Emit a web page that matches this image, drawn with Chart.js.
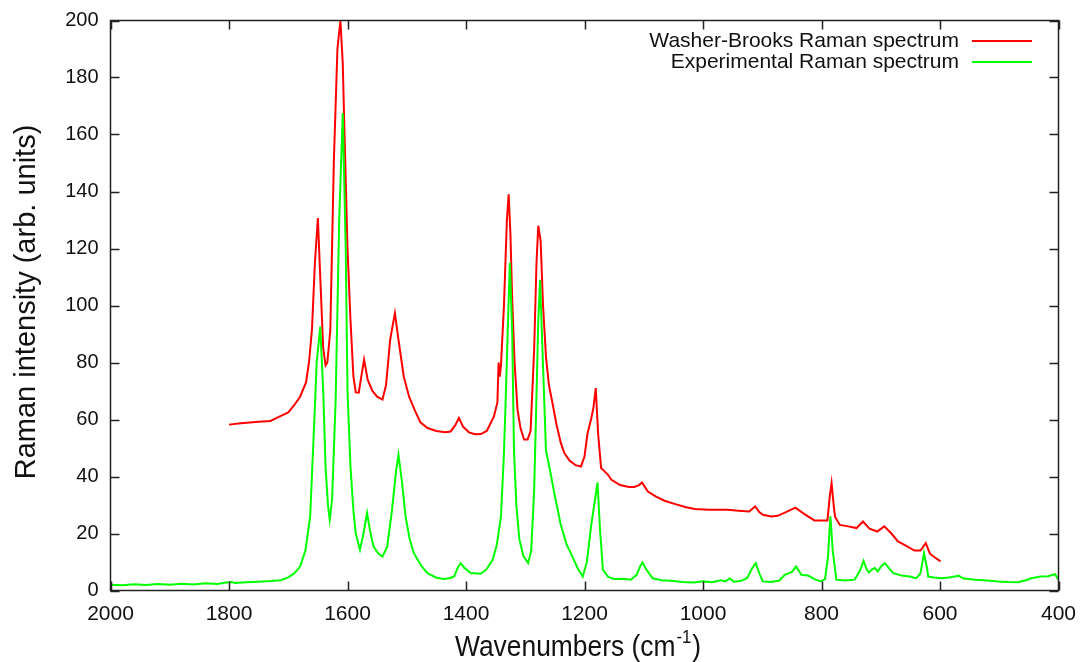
<!DOCTYPE html>
<html>
<head>
<meta charset="utf-8">
<script src="https://cdn.jsdelivr.net/npm/chart.js@4.4.0/dist/chart.umd.min.js"></script>
<style>
  html, body { margin: 0; padding: 0; background: #fff; }
  #wrap { width: 1083px; height: 662px; }
</style>
</head>
<body>
<div id="wrap"><canvas id="c" width="1083" height="662"></canvas></div>
<script>
// Raman spectra - gnuplot style chart redrawn with Chart.js
const seriesLabels = ['Washer-Brooks Raman spectrum', 'Experimental Raman spectrum'];
const xTicks = [2000, 1800, 1600, 1400, 1200, 1000, 800, 600, 400];
const yTicks = [0, 20, 40, 60, 80, 100, 120, 140, 160, 180, 200];

// Washer-Brooks (computed) spectrum
const wbWavenumber = [1800,1780,1750,1730,1715,1700,1690,1680,1670,1665,1660,1655,1650,1646,1641,1637,1634,1629,1623,1617,1612,1608,1605,1600,1595,1590,1586,1581,1576,1572,1566,1558,1550,1541,1535,1528,1520,1514,1505,1496,1486,1477,1465,1450,1435,1426,1418,1412,1405,1395,1385,1375,1365,1353,1347,1345,1343,1341,1336,1331,1328,1325,1322,1318,1313,1308,1302,1296,1291,1285,1281,1278,1274,1270,1265,1260,1254,1247,1240,1234,1225,1215,1206,1200,1195,1189,1185,1181,1177,1172,1169,1160,1155,1140,1125,1116,1108,1103,1093,1080,1065,1048,1030,1014,990,958,940,922,912,905,899,885,874,860,844,830,812,790,786,783,779,777,769,755,741,730,719,706,694,682,671,660,643,633,624,617,608,599];
const wbIntensity = [58.2,58.7,59.2,59.5,61,62.5,65,68,73,80,91.5,115,130.7,110,85,79,80,91.5,151,190,200,185,160,120,95,75,69.5,69.4,76,81,74,70,68,67,72,88,97.3,88,75,68,63,59,57,56,55.5,55.8,58,60.5,57.5,55.5,54.8,54.9,56,61,66,80,75,79,99.6,130,139,125,102,80,63.4,57,53,53,56,84.5,115,128,122.5,100,82,72,65.7,58,51.8,48.2,45.5,44,43.5,47,55,60,64,71,55,43,42.4,40.5,38.9,37,36.3,36.3,37,37.9,34.7,33,31.5,30.4,29.3,28.6,28.3,28.3,28,27.7,29.5,27.5,26.6,26,26.2,27.5,29.1,27,24.6,24.6,33,37.7,29,25.8,23,22.5,21.9,24.2,21.7,20.7,22.5,20,17.2,16,14,14,16.6,12.9,11.5,10.2];

// Experimental spectrum
const expWavenumber = [2000,1980,1960,1940,1920,1900,1880,1860,1840,1820,1805,1795,1790,1770,1750,1730,1713,1700,1690,1680,1671,1663,1657,1652,1646,1641,1637,1633,1630,1626,1620,1614,1608,1603,1600,1595,1590,1586,1579,1573,1567,1562,1556,1548,1541,1533,1525,1518,1514,1508,1502,1495,1488,1475,1465,1450,1437,1428,1420,1414,1409,1403,1392,1375,1365,1355,1348,1341,1336,1333,1329,1326,1322,1319,1315,1310,1303,1295,1290,1285,1282,1278,1275,1271,1265,1258,1251,1240,1230,1223,1212,1203,1196,1189,1185,1178,1174,1169,1160,1150,1135,1122,1112,1106,1102,1096,1085,1070,1050,1035,1015,1000,985,970,962,955,948,935,925,918,911,905,899,885,871,862,850,843,834,823,812,801,794,789,785,781,775,760,744,735,729,724,720,714,710,705,699,693,687,679,665,651,640,633,627,622,620,610,598,585,575,569,560,540,520,502,485,468,455,446,430,418,406,400];
const expIntensity = [2.0,1.8,2.2,1.9,2.3,2.0,2.4,2.1,2.5,2.3,2.8,3.0,2.6,2.9,3.1,3.3,3.6,4.6,6.0,8.4,14,26,55,80,92.6,70,43.5,30,24.8,32,67,130,167.5,120,70,43.5,28,20,14.3,20,27.2,21,15.4,13,11.9,15.4,28,42,47.6,38,26,18,13.1,8.5,6.1,4.5,4.0,4.3,4.9,8,9.6,8,6.1,5.9,7.5,10.8,16,26,48,67,95,115,90,49,30,18,12,9.6,14,35,60,95,109,85,49,42,34.2,23,16,13.1,8,4.9,10,22.5,28,37.9,22,7.3,4.8,4.0,4.1,3.8,5.5,8.5,9.8,7.5,4.3,3.6,3.3,3.0,2.8,3.2,2.9,3.6,3.2,4.2,3.1,3.4,4.5,7.5,9.6,6,3.2,3.0,3.5,5.5,6.5,8.4,5.5,5.3,4.0,3.2,4,12,26,14,3.8,3.5,3.8,7,10.4,7.5,6.3,7.5,7.9,6.7,8.5,9.6,8,6.1,5.3,4.9,4.3,6,13.1,8,4.9,4.6,4.3,4.6,4.9,5.2,4.2,3.8,3.5,3.2,3.0,2.9,3.6,4.3,4.9,5.0,5.7,3.8];

const seriesColors = ['#ff0000', '#00ff00'];

function toPoints(xs, ys){
  return xs.map(function(x, i){ return { x: x, y: ys[i] }; });
}

// frame, inward mirrored ticks, legend and axis titles (gnuplot look)
const gnuplotDecor = {
  id: 'gnuplotDecor',
  afterDraw(chart){
    const ctx = chart.ctx;
    const a = chart.chartArea;
    const sx = chart.scales.x, sy = chart.scales.y;
    const tl = 9;
    ctx.save();
    ctx.strokeStyle = '#222';
    ctx.lineWidth = 1.5;
    ctx.strokeRect(a.left, a.top, a.right - a.left, a.bottom - a.top);
    ctx.beginPath();
    xTicks.forEach(function(v){
      const px = Math.round(sx.getPixelForValue(v)) + 0.5;
      ctx.moveTo(px, a.bottom); ctx.lineTo(px, a.bottom - tl);
      ctx.moveTo(px, a.top); ctx.lineTo(px, a.top + tl);
    });
    yTicks.forEach(function(v){
      const py = Math.round(sy.getPixelForValue(v)) + 0.5;
      ctx.moveTo(a.left, py); ctx.lineTo(a.left + tl, py);
      ctx.moveTo(a.right, py); ctx.lineTo(a.right - tl, py);
    });
    ctx.stroke();

    // legend (text right aligned, sample line on the right)
    ctx.font = '21px "Liberation Sans", Arial, sans-serif';
    ctx.textAlign = 'right';
    ctx.textBaseline = 'middle';
    seriesLabels.forEach(function(lbl, i){
      const yy = 41 + i * 21;
      ctx.fillStyle = '#111';
      ctx.fillText(lbl, 959, yy);
      ctx.strokeStyle = seriesColors[i];
      ctx.lineWidth = 2;
      ctx.beginPath(); ctx.moveTo(972, yy); ctx.lineTo(1032, yy); ctx.stroke();
    });

    // y axis title
    ctx.fillStyle = '#111';
    ctx.save();
    ctx.translate(35, 302);
    ctx.rotate(-Math.PI / 2);
    ctx.font = '29px "Liberation Sans", Arial, sans-serif';
    ctx.textAlign = 'center';
    ctx.textBaseline = 'alphabetic';
    ctx.fillText('Raman intensity (arb. units)', 0, 0);
    ctx.restore();

    // x axis title with superscript
    ctx.save();
    ctx.translate(455, 656);
    ctx.scale(0.88, 1);
    ctx.textAlign = 'left';
    ctx.textBaseline = 'alphabetic';
    ctx.font = '30px "Liberation Sans", Arial, sans-serif';
    const t1 = 'Wavenumbers (cm';
    ctx.fillText(t1, 0, 0);
    let w = ctx.measureText(t1).width;
    ctx.font = '19px "Liberation Sans", Arial, sans-serif';
    ctx.fillText('-1', w + 1, -13);
    w += ctx.measureText('-1').width + 2;
    ctx.font = '30px "Liberation Sans", Arial, sans-serif';
    ctx.fillText(')', w, 0);
    ctx.restore();
    ctx.restore();
  }
};

const plainNumber = function(v){ return String(v); };

new Chart(document.getElementById('c'), {
  type: 'line',
  data: {
    datasets: [
      { label: seriesLabels[0], data: toPoints(wbWavenumber, wbIntensity), borderColor: seriesColors[0], borderWidth: 2, pointRadius: 0, tension: 0, fill: false, order: 1 },
      { label: seriesLabels[1], data: toPoints(expWavenumber, expIntensity), borderColor: seriesColors[1], borderWidth: 2, pointRadius: 0, tension: 0, fill: false, order: 0 }
    ]
  },
  options: {
    responsive: false,
    animation: false,
    layout: { padding: { left: 0, top: 20.5, right: 24.5, bottom: 0 } },
    plugins: { legend: { display: false }, tooltip: { enabled: false } },
    scales: {
      x: {
        type: 'linear', reverse: true, min: 400, max: 2000,
        afterBuildTicks: function(s){ s.ticks = xTicks.map(function(v){ return { value: v }; }); },
        afterFit: function(s){ s.height = 71.5; },
        grid: { display: false }, border: { display: false },
        ticks: { maxRotation: 0, autoSkip: false, padding: 3, color: '#111', callback: plainNumber, font: { family: '"Liberation Sans", Arial, sans-serif', size: 21 } }
      },
      y: {
        min: 0, max: 200,
        afterBuildTicks: function(s){ s.ticks = yTicks.map(function(v){ return { value: v }; }); },
        afterFit: function(s){ s.width = 110.5; },
        grid: { display: false }, border: { display: false },
        ticks: { autoSkip: false, padding: 4, color: '#111', callback: plainNumber, font: { family: '"Liberation Sans", Arial, sans-serif', size: 20 } }
      }
    }
  },
  plugins: [gnuplotDecor]
});
</script>
</body>
</html>
